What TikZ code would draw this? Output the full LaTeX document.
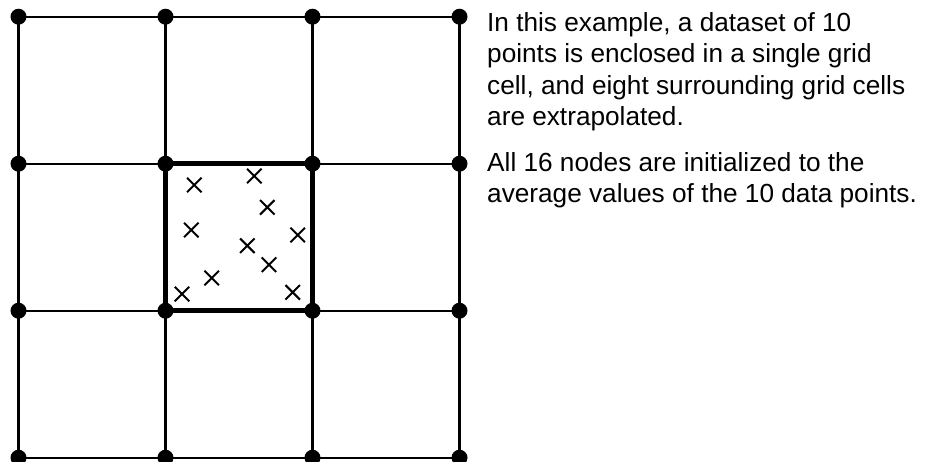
\documentclass[tikz,border=0pt]{standalone}
\usepackage{fontspec}
\setmainfont{Liberation Sans}
\usetikzlibrary{shapes.misc}
\begin{document}
\begin{tikzpicture}[x=1pt,y=-1pt,
  gridline/.style={line width=2.3pt},
  thickbox/.style={line width=5.5pt},
  dotnode/.style={circle,fill=black,inner sep=0pt,minimum size=16pt},
  xmark/.style={cross out,draw,line width=2pt,inner sep=0pt,minimum size=12.5pt},
  para/.style={anchor=base west,align=left,inner sep=0pt,font=\fontsize{26.2}{31.5}\selectfont}]
\useasboundingbox (0,0) rectangle (925,461);
% grid coordinates
\foreach \i in {0,...,3}{
  \foreach \j in {0,...,3}{
    \coordinate (g\i\j) at ({18.5+147*\i},{16.7+147*\j});
  }
}
% grid lines
\foreach \k in {0,...,3}{
  \draw[gridline] (g0\k) -- (g3\k);
  \draw[gridline] (g\k0) -- (g\k3);
}
% thick centre cell
\draw[thickbox] (g11) -- (g21) -- (g22) -- (g12) -- cycle;
% dots
\foreach \i in {0,...,3}{
  \foreach \j in {0,...,3}{
    \node[dotnode] (d\i\j) at (g\i\j) {};
  }
}
% data points
\node[xmark] (p1) at (194.3,185) {};
\node[xmark] (p2) at (254.3,176) {};
\node[xmark] (p3) at (267.3,207.3) {};
\node[xmark] (p4) at (191.3,230) {};
\node[xmark] (p5) at (297.7,235) {};
\node[xmark] (p6) at (247.3,245.7) {};
\node[xmark] (p7) at (269,264.7) {};
\node[xmark] (p8) at (211.7,278) {};
\node[xmark] (p9) at (182,294) {};
\node[xmark] (p10) at (292.7,292.3) {};
% text (anchored at the baseline of the last line)
\node[para] (t1) at (487,125.5) {In this example, a dataset of 10\\points is enclosed in a single grid\\cell, and eight surrounding grid cells\\are extrapolated.};
\node[para] (t2) at (487,202.5) {All 16 nodes are initialized to the\\average values of the 10 data points.};
\end{tikzpicture}
\end{document}
